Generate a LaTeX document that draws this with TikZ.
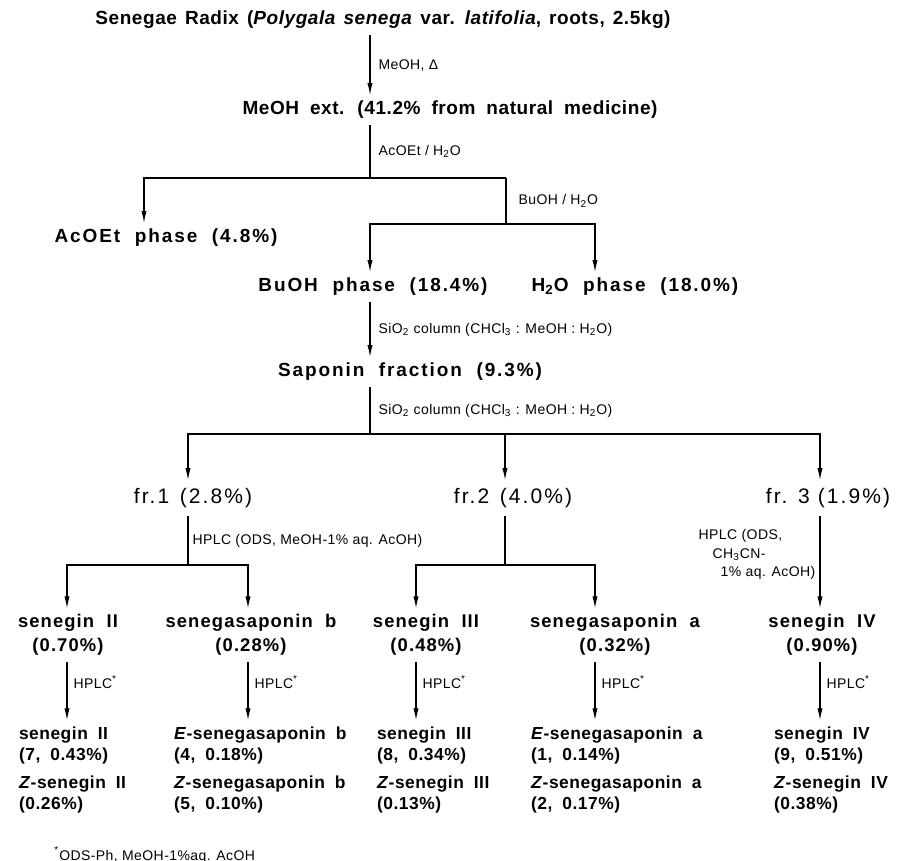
\documentclass[tikz,border=0pt]{standalone}
\usepackage{fontspec}
\setmainfont{Liberation Sans}
\newfontfamily\stagefont[LetterSpace=10]{Liberation Sans}
\newfontfamily\headfont[LetterSpace=3]{Liberation Sans}
\newfontfamily\frfont[LetterSpace=10]{Liberation Sans}
\newfontfamily\cmpdfont[LetterSpace=6,WordSpace=2]{Liberation Sans}
\newfontfamily\prodfont[LetterSpace=3]{Liberation Sans}
\newfontfamily\condfont[LetterSpace=3]{Liberation Sans}
\usetikzlibrary{arrows.meta, positioning}

\newcommand{\idx}[1]{\textsubscript{#1}}
\newcommand{\fnmark}{\textsuperscript{*}}
\newcommand{\stagetype}{\stagefont\fontsize{9.5}{12}\selectfont\bfseries\spaceskip=7.3pt\relax}
\newcommand{\headtype}[1]{\headfont\fontsize{9.5}{12}\selectfont\bfseries\spaceskip=#1\relax}
\newcommand{\frtype}{\frfont\fontsize{10.5}{12}\selectfont\spaceskip=0pt\relax}
\newcommand{\cmpdtype}{\cmpdfont\fontsize{9.2}{12}\selectfont\bfseries\spaceskip=0pt\relax}
\newcommand{\prodtype}{\prodfont\fontsize{8.7}{10.5}\selectfont\bfseries\spaceskip=5pt\relax}
\newcommand{\condtype}{\condfont\fontsize{7}{9.25}\selectfont\spaceskip=0pt\relax}

\begin{document}
\begin{tikzpicture}[
  x=0.5pt, y=-0.5pt,
  stage/.style={font=\stagetype, inner sep=1pt, outer sep=2pt},
  headline/.style={stage, font=\headtype{4pt}},
  frnode/.style={font=\frtype, inner sep=1pt, outer sep=3pt},
  cmpd/.style={stage, align=center, font=\cmpdtype},
  prod/.style={font=\prodtype, align=left, anchor=west, inner sep=1pt, outer sep=2pt},
  cond/.style={font=\condtype, inner sep=1pt},
  arrow/.style={-{Latex[length=6pt,width=2.6pt]}, line width=0.6pt},
  link/.style={line width=0.6pt},
]
\useasboundingbox (0,0) rectangle (905,861);

% extraction
\node[headline] (radix) at (383,20) {Senegae Radix (\textit{Polygala senega} var. \textit{latifolia}, roots, 2.5kg)};
\node[headline, font=\headtype{5.5pt}] (meohext) at (450,110) {MeOH ext. (41.2\% from natural medicine)};
\node[stage] (acoet) at (166,238) {AcOEt phase (4.8\%)};
\node[stage] (buoh) at (373,287) {BuOH phase (18.4\%)};
\node[stage] (water) at (635,287) {H\idx{2}O phase (18.0\%)};
\node[stage] (saponin) at (410,372) {Saponin fraction (9.3\%)};

% fractions
\node[frnode] (fr1) at (193,498) {fr.1\enspace(2.8\%)};
\node[frnode] (fr2) at (513,498) {fr.2\enspace(4.0\%)};
\node[frnode] (fr3) at (828,498) {fr. 3 (1.9\%)};

% isolated saponins
\node[cmpd] (s2) at (68,635) {senegin II\\(0.70\%)};
\node[cmpd] (sb) at (251,635) {senegasaponin b\\(0.28\%)};
\node[cmpd] (s3) at (426,635) {senegin III\\(0.48\%)};
\node[cmpd] (sa) at (615,635) {senegasaponin a\\(0.32\%)};
\node[cmpd] (s4) at (822,635) {senegin IV\\(0.90\%)};

% E/Z isomers
\node[prod] (p2a) at (13,745) {senegin II\\(7, 0.43\%)};
\node[prod] (p2b) at (13,794) {\textit{Z}-senegin II\\(0.26\%)};
\node[prod] (pba) at (168,745) {\textit{E}-senegasaponin b\\(4, 0.18\%)};
\node[prod] (pbb) at (168,794) {\textit{Z}-senegasaponin b\\(5, 0.10\%)};
\node[prod] (p3a) at (371,745) {senegin III\\(8, 0.34\%)};
\node[prod] (p3b) at (371,794) {\textit{Z}-senegin III\\(0.13\%)};
\node[prod] (paa) at (525,745) {\textit{E}-senegasaponin a\\(1, 0.14\%)};
\node[prod] (pab) at (525,794) {\textit{Z}-senegasaponin a\\(2, 0.17\%)};
\node[prod] (p4a) at (768,745) {senegin IV\\(9, 0.51\%)};
\node[prod] (p4b) at (768,794) {\textit{Z}-senegin IV\\(0.38\%)};

\node[cond, anchor=west] (note) at (52,855) {\fnmark ODS-Ph, MeOH-1\%aq. AcOH};

% junctions
\coordinate (spine) at (370,0);
\coordinate (acJ) at (370,178);
\coordinate (acL) at (144,178);
\coordinate (acR) at (506,178);
\coordinate (buJ) at (506,224);
\coordinate (buL) at (370,224);
\coordinate (buR) at (595,224);
\coordinate (fJ) at (370,434);
\coordinate (f1) at (188,434);
\coordinate (f2) at (505,434);
\coordinate (f3) at (820,434);
\coordinate (c1J) at (188,565);
\coordinate (c1L) at (67,565);
\coordinate (c1R) at (248,565);
\coordinate (c2J) at (505,565);
\coordinate (c2L) at (416,565);
\coordinate (c2R) at (595,565);

\draw[arrow] (radix.south -| spine) -- (meohext.north -| spine)
  node[cond, midway, right=3pt] {MeOH, Δ};
\draw[link] (meohext.south -| spine) -- (acJ)
  node[cond, midway, right=3pt] {AcOEt / H\idx{2}O};
\draw[arrow] (acR) -- (acL) -- (acoet.north -| acL);
\draw[link] (acR) -- (buJ)
  node[cond, midway, right=5pt] {BuOH / H\idx{2}O};
\draw[arrow] (buJ) -- (buL) -- (buoh.north -| buL);
\draw[arrow] (buJ) -- (buR) -- (water.north -| buR);
\draw[arrow] (buoh.south -| spine) -- (saponin.north -| spine)
  node[cond, midway, right=3pt] {SiO\idx{2} column (CHCl\idx{3} : MeOH : H\idx{2}O)};
\draw[link] (saponin.south -| spine) -- (fJ)
  node[cond, midway, right=3pt] {SiO\idx{2} column (CHCl\idx{3} : MeOH : H\idx{2}O)};
\draw[arrow] (fJ) -- (f1) -- (fr1.north -| f1);
\draw[arrow] (fJ) -- (f3) -- (fr3.north -| f3);
\draw[arrow] (f2) -- (fr2.north -| f2);

\draw[link] (fr1.south -| c1J) -- (c1J)
  node[cond, midway, right=1pt] {HPLC (ODS, MeOH-1\% aq. AcOH)};
\draw[arrow] (c1J) -- (c1L) -- (s2.north -| c1L);
\draw[arrow] (c1J) -- (c1R) -- (sb.north -| c1R);
\draw[link] (fr2.south -| c2J) -- (c2J);
\draw[arrow] (c2J) -- (c2L) -- (s3.north -| c2L);
\draw[arrow] (c2J) -- (c2R) -- (sa.north -| c2R);
\draw[arrow] (fr3.south -| f3) -- (s4.north -| f3)
  node[cond, pos=0.42, anchor=east, xshift=-1pt, align=left] {HPLC (ODS,\\\hspace*{7pt}CH\idx{3}CN-\\\hspace*{11pt}1\% aq. AcOH)};

\draw[arrow] (s2.south -| c1L) -- (p2a.north -| c1L)
  node[cond, pos=0.35, right=2pt] {HPLC\fnmark};
\draw[arrow] (sb.south -| c1R) -- (pba.north -| c1R)
  node[cond, pos=0.35, right=2pt] {HPLC\fnmark};
\draw[arrow] (s3.south -| c2L) -- (p3a.north -| c2L)
  node[cond, pos=0.35, right=2pt] {HPLC\fnmark};
\draw[arrow] (sa.south -| c2R) -- (paa.north -| c2R)
  node[cond, pos=0.35, right=2pt] {HPLC\fnmark};
\draw[arrow] (s4.south -| f3) -- (p4a.north -| f3)
  node[cond, pos=0.35, right=2pt] {HPLC\fnmark};
\end{tikzpicture}
\end{document}
